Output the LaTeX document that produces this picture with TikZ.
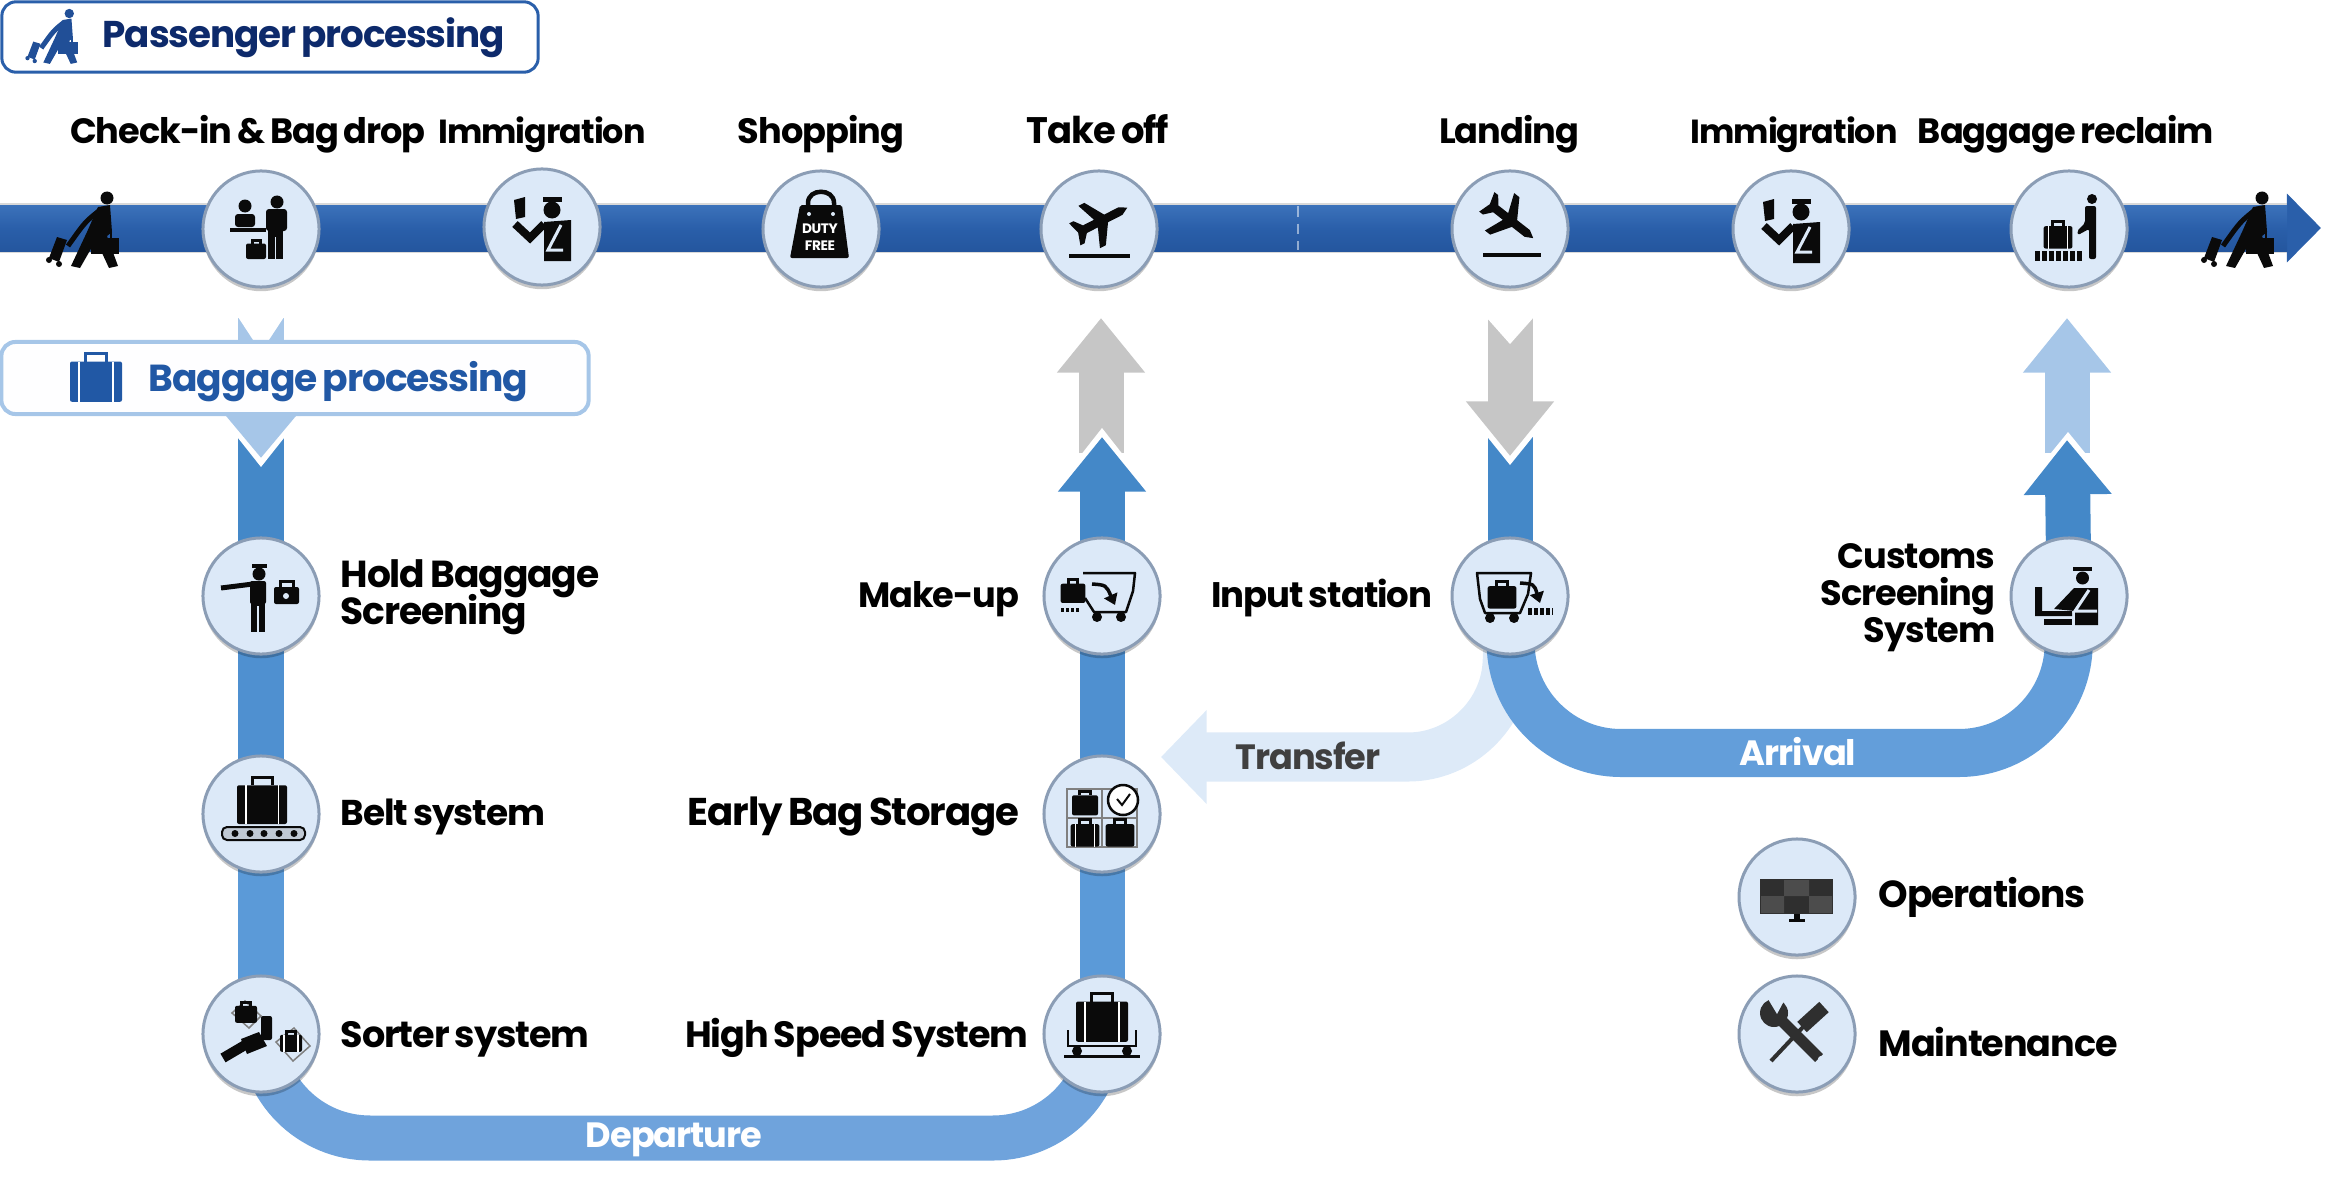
\documentclass[tikz,border=0pt]{standalone}
\usepackage{fontspec}
\setmainfont{Poppins}[LetterSpace=-3,WordSpace=0.75]
\usetikzlibrary{arrows.meta,backgrounds,shadows}
\def\px{0.2845pt}
\definecolor{barblue}{HTML}{2A5FAA}
\definecolor{bartop}{HTML}{3C72BA}
\definecolor{barlow}{HTML}{24569E}
\definecolor{flowa}{HTML}{4488C8}
\definecolor{flowb}{HTML}{4F90D0}
\definecolor{flowc}{HTML}{5B9AD8}
\definecolor{flowd}{HTML}{6FA3DC}
\definecolor{flowlight}{HTML}{A6C6E8}
\definecolor{transfill}{HTML}{DDEAF8}
\definecolor{grayflow}{HTML}{C6C6C6}
\definecolor{circfill}{HTML}{DCE9F8}
\definecolor{circedge}{HTML}{8B9DB5}
\definecolor{navytext}{HTML}{0D2A6B}
\definecolor{bagblue}{HTML}{2158A5}
\definecolor{iconink}{HTML}{0A0A0A}
\tikzset{
    x=0.01cm,y=-0.01cm,
    stationnode/.style={circle,fill=circfill,draw=circedge,line width=3*\px,minimum size=33pt,inner sep=0pt,outer sep=0pt,
        drop shadow={shadow xshift=0pt,shadow yshift=-1.2pt,opacity=.22,fill=black}},
    toplabel/.style={font=\fontsize{10}{10.5}\selectfont\bfseries,text=black,inner sep=0pt,anchor=base},
    sidefont/.style={font=\fontsize{10.4}{10.5}\selectfont\bfseries},
    sidelabel/.style={toplabel,sidefont,anchor=base west,align=left},
    leftlabel/.style={toplabel,sidefont,anchor=base east,align=right},
    flowlabel/.style={toplabel,text=white},
    flowline/.style={line width=45*\px},
    bandline/.style={line width=45*\px,rounded corners=31pt,
        preaction={draw,black,opacity=.13,transform canvas={yshift=-1.5pt}}},
    blockhead/.style={line width=45*\px,-{Triangle[length=15.5pt,width=24pt]}},
    boxnode/.style={rectangle,rounded corners=4pt,inner sep=0pt,outer sep=0pt},
    % icons, drawn round their circle's centre
    pics/suitcase/.style={code={
        \fill[rounded corners=2*\px] (-20,-15) rectangle (20,16);
        \draw[line width=3*\px] (-8,-15) -- (-8,-21) -- (8,-21) -- (8,-15);
    }},
    pics/stripecase/.style={code={
        \fill[rounded corners=2*\px] (-20,-15) rectangle (20,16);
        \draw[line width=3*\px] (-8,-15) -- (-8,-21) -- (8,-21) -- (8,-15);
        \draw[white,line width=1.5*\px] (-13,-15) -- (-13,16) (13,-15) -- (13,16);
    }},
    pics/walker/.style={code={
        \fill (24,-34) circle (6.5);
        \fill (15,-25) -- (27,-27) -- (29,0) -- (24,4) -- (35,34) -- (26,36) -- (13,8) -- (-3,36) -- (-12,34) -- (4,0) -- cycle;
        \draw[line width=5*\px] (17,-22) .. controls (2,-10) .. (-15,14);
        \fill (-34,26) -- (-26,5) -- (-16,8) -- (-24,30) -- cycle;
        \fill (-34,28) circle (3) (-24,32) circle (3);
        \fill (8,6) rectangle (36,22);
        \draw[line width=2*\px] (16,6) -- (16,1) -- (28,1) -- (28,6);
    }},
    pics/plane/.style={code={
        \fill (31,0) -- (23,-4.5) -- (6,-4.5) -- (-7,-25) -- (-14,-25) -- (-6,-4.5) -- (-19,-4.5) -- (-26,-13) -- (-31,-13)
            -- (-27,0) -- (-31,13) -- (-26,13) -- (-19,4.5) -- (-6,4.5) -- (-14,25) -- (-7,25) -- (6,4.5) -- (23,4.5) -- cycle;
    }},
    pics/desk/.style={code={
        \fill (-16,-23) circle (6.5);
        \fill[rounded corners=3*\px] (-26,-15) rectangle (-6,-2);
        \fill (-31,-1) rectangle (5,3);
        \fill (16,-27) circle (6.5);
        \fill[rounded corners=3*\px] (5,-20) rectangle (26,2);
        \fill (7,0) rectangle (22,30);
        \draw[circfill,line width=1.5*\px] (14.5,8) -- (14.5,30);
        \pic[scale=.5] at (-5,22) {suitcase};
    }},
    pics/officer/.style={code={
        \fill (1,-30) rectangle (20,-25);
        \fill (10,-17) circle (8.5);
        \fill (-28,-27) -- (-17,-30) -- (-17,-10) -- (-26,-8) -- cycle;
        \draw[line width=8*\px] (-27,-3) -- (-12,11) -- (2,-3);
        \fill (2,-5) -- (29,-7) -- (29,34) -- (2,34) -- cycle;
        \draw[circfill,line width=3*\px] (19,-2) -- (6,23) -- (21,23);
    }},
    pics/dutybag/.style={code={
        \draw[line width=4.5*\px] (-13,-22) -- (-13,-26) .. controls (-13,-41) and (13,-41) .. (13,-26) -- (13,-22);
        \fill[rounded corners=2*\px] (-21,-24) -- (21,-24) -- (28,29) -- (-31,29) -- cycle;
        \fill[circfill] (-12,-15) circle (2) (12,-15) circle (2);
        \node[white,font=\fontsize{3.9}{5}\selectfont\bfseries,align=center,inner sep=0pt] (dutytext) at (-1,8) {DUTY\\FREE};
    }},
    pics/takeoffsign/.style={code={
        \pic[rotate=27,scale=.95] at (2,-8) {plane};
        \fill (-30,25) rectangle (31,29);
    }},
    pics/landingsign/.style={code={
        \pic[rotate=-38,scale=.95] at (0,-9) {plane};
        \fill (-27,24) rectangle (31,28);
    }},
    pics/reclaim/.style={code={
        \fill (23,-30) circle (5);
        \fill[rounded corners=2*\px] (16,-23) -- (27,-23) -- (27,30) -- (20,30) -- (20,0) -- (9,6) -- (8,2) -- (16,-6) -- cycle;
        \pic[scale=.72] at (-11,8) {stripecase};
        \draw[line width=9*\px,dash pattern=on 5*\px off 2*\px] (-34,27) -- (13,27);
    }},
    pics/screener/.style={code={
        \fill (-9,-32) rectangle (6,-28);
        \fill (-2,-22) circle (6.5);
        \fill[rounded corners=2*\px] (-11,-15) rectangle (5,8);
        \fill (-10,5) rectangle (4,36);
        \draw[circfill,line width=1.5*\px] (-3,10) -- (-3,36);
        \draw[line width=5*\px] (-8,-12) -- (-40,-8);
        \fill[rounded corners=2*\px] (13,-9) rectangle (38,8);
        \draw[line width=3*\px] (19,-9) -- (19,-15) -- (32,-15) -- (32,-9);
        \fill[circfill] (25,0) circle (3);
    }},
    pics/beltcase/.style={code={
        \pic[scale=1.25] at (1,-10) {stripecase};
        \draw[line width=2*\px,rounded corners=5*\px,fill=circfill!70!gray] (-39,13) rectangle (44,26);
        \foreach \dotx in {-26,-11,3,18,33} \fill (\dotx,19.5) circle (3.5);
    }},
    pics/sorter/.style={code={
        \draw[gray,line width=1.5*\px] (-29,-21) -- (-16,-33) -- (0,-18) -- (-12,-6) -- cycle;
        \draw[gray,line width=1.5*\px] (15,8) -- (33,-6) -- (49,12) -- (32,27) -- cycle;
        \pic[scale=.55] at (-15,-20) {suitcase};
        \fill[rounded corners=2*\px] (0,-18) rectangle (11,6);
        \pic[scale=.55] at (30,9) {stripecase};
        \draw[line width=10*\px] (-38,24) -- (-4,4);
        \fill (-20,5) -- (-2,-2) -- (6,12) -- (-14,20) -- cycle;
    }},
    pics/highspeed/.style={code={
        \pic[scale=1.3] at (0,-13) {stripecase};
        \draw[line width=2.5*\px] (-34,-4) -- (-34,12) -- (34,12) -- (34,-4);
        \fill (-25,17) circle (5) (25,17) circle (5);
        \fill (-38,21) rectangle (38,23.5);
    }},
    pics/earlystore/.style={code={
        \draw[gray,line width=2*\px] (-35,-25) rectangle (35,33) (0,-25) -- (0,33) (-35,4) -- (35,4);
        \pic[scale=.65] at (-17,-9) {suitcase};
        \pic[scale=.72] at (-17,21) {stripecase};
        \pic[scale=.72] at (18,21) {suitcase};
        \draw[line width=2.5*\px,fill=white] (21,-14) circle (15);
        \draw[line width=2*\px] (15,-15) -- (20,-9) -- (28,-20);
    }},
    pics/makeup/.style={code={
        \draw[line width=2.5*\px,line join=round] (-19,-23) -- (33,-23) -- (31,-5) -- (24,16) -- (-8,16) -- (-17,2);
        \pic[scale=.62] at (-29,-3) {suitcase};
        \draw[line width=4*\px,dash pattern=on 3*\px off 2*\px] (-41,14) -- (-22,14);
        \fill (-5,21) circle (5) (19,21) circle (5);
        \draw[line width=3.5*\px,-{Triangle[length=3pt,width=4pt]}] (-10,-12) .. controls (4,-11) .. (13,9);
    }},
    pics/inputcart/.style={code={
        \draw[line width=2.5*\px,line join=round] (-33,-23) -- (21,-23) -- (18,-2) -- (10,17) -- (-25,17) -- (-30,3) -- cycle;
        \pic[scale=.72] at (-8,1) {suitcase};
        \fill (-20,22) circle (5) (4,22) circle (5);
        \draw[line width=3.5*\px,-{Triangle[length=3pt,width=4pt]}] (10,-13) .. controls (24,-12) .. (30,7);
        \draw[line width=7*\px,dash pattern=on 4*\px off 2*\px] (18,15) -- (43,15);
    }},
    pics/customs/.style={code={
        \fill (4,-29) rectangle (23,-25);
        \fill (13.5,-18) circle (6.5);
        \fill (-34,-9) -- (-27,-9) -- (-27,15) -- (3,15) -- (3,20) -- (-34,20) -- cycle;
        \fill (-15,13) -- (5,-8) -- (29,-8) -- (29,29) -- (6,29) -- (6,15) -- cycle;
        \draw[circfill,line width=3*\px] (20,-6) -- (6,15) -- (28,15);
        \fill (-25,23) rectangle (3,29);
    }},
    pics/monitors/.style={code={
        \fill[iconink!85] (-37,-18) rectangle (36,17);
        \fill[iconink!73] (-13,-17) rectangle (12,-1) (-36,-1) rectangle (-13,16) (12,-1) rectangle (35,16);
        \fill (-3,17) rectangle (3,22);
        \fill (-8,22) rectangle (8,25);
    }},
    pics/tools/.style={code={
        \draw[iconink!85,line width=11*\px] (-20,-18) -- (22,24);
        \fill[iconink!85] (-23,-21) circle (14);
        \fill[circfill] (-32,-40) -- (-12,-35) -- (-20,-20) -- cycle;
        \fill[circfill] (24,25) circle (3);
        \draw[iconink!85,line width=14*\px] (5,-7) -- (27,-27);
        \draw[iconink!85,line width=4*\px] (6,-7) -- (-26,27);
    }},
}
\begin{document}
\begin{tikzpicture}
    \useasboundingbox (0,0) rectangle (2328,1176);
    % top row
    \node[stationnode] (checkin) at (261,229) {};
    \node[stationnode] (immigout) at (542,227) {};
    \node[stationnode] (shopping) at (821,229) {};
    \node[stationnode] (takeoff) at (1099,229) {};
    \node[stationnode] (landing) at (1510,229) {};
    \node[stationnode] (immigin) at (1791,229) {};
    \node[stationnode] (reclaim) at (2069,229) {};
    % baggage loops
    \node[stationnode] (hbs) at (261,596) {};
    \node[stationnode] (belt) at (261,814) {};
    \node[stationnode] (sorter) at (261,1034) {};
    \node[stationnode] (makeup) at (1102,596) {};
    \node[stationnode] (early) at (1102,814) {};
    \node[stationnode] (highspeed) at (1102,1034) {};
    \node[stationnode] (input) at (1510,596) {};
    \node[stationnode] (customs) at (2069,596) {};
    \node[stationnode] (operations) at (1797,897) {};
    \node[stationnode] (maintenance) at (1797,1034) {};

    \coordinate (barstart) at (0,228);
    \coordinate (bargrad) at (2287,228);
    \coordinate (barend) at (2321,228);
    \coordinate (depleft) at (261,1138);
    \coordinate (depright) at (1102,1138);
    \coordinate (arrleft) at (1512,753);
    \coordinate (arrright) at (2068,753);
    \coordinate (transcorner) at (1503,757);
    \coordinate (transtip) at (1161,757);
    \coordinate (checkintail) at (261,318);
    \coordinate (checkintip) at (261,458);
    \coordinate (hbsin) at (261,438);
    \coordinate (makeuptip) at (1102,437);
    \coordinate (takeofftail) at (1101,453);
    \coordinate (takeofftip) at (1101,318);
    \coordinate (landtail) at (1510,318);
    \coordinate (landtip) at (1510,456);
    \coordinate (inputin) at (1510,437);
    \coordinate (customstip) at (2067,440);
    \coordinate (reclaimtail) at (2067,453);
    \coordinate (reclaimtip) at (2067,318);

    \begin{scope}[on background layer]
    \draw[black,opacity=.15,line width=14pt] (barstart) -- (bargrad);
    \draw[barblue,line width=45*\px,-{Triangle[length=9.7pt,width=19pt]}] (barstart) -- (barend);
    \shade[top color=bartop,bottom color=barlow,middle color=barblue] (0,205) rectangle (2287,251);
    \draw[white,opacity=.5,densely dashed,line width=.3pt] (1298,206) -- (1298,250);

    % departure
    \draw[flowline,flowa] (hbsin) -- (hbs.center);
    \draw[flowline,flowb] (hbs.center) -- (belt.center);
    \draw[flowline,flowc] (belt.center) -- (sorter.center);
    \draw[bandline,flowd] (sorter.center) -- (depleft) -- (depright) -- (highspeed.center);
    \draw[flowline,flowc] (highspeed.center) -- (early.center);
    \draw[flowline,flowb] (early.center) -- (makeup.center);

    % light and grey arrows
    \fill[white] (261,467) -- (215,409) -- (307,409) -- cycle;
    \draw[flowline,flowlight,-{Triangle[length=15pt,width=24pt]}] (checkintail) -- (checkintip);
    \fill[white] (238,317) -- (284,317) -- (261,352) -- cycle;

    \draw[flowline,grayflow] (takeofftail) -- (1101,360);
    \draw[blockhead,grayflow] (1101,372) -- (takeofftip);
    \fill[white] (1102,428) -- (1146,484) -- (1058,484) -- cycle;
    \draw[blockhead,flowa] (makeup.center) -- (makeuptip);

    \draw[flowline,flowa] (inputin) -- (input.center);
    \fill[white] (1510,465) -- (1464,408) -- (1556,408) -- cycle;
    \draw[flowline,grayflow] (landtail) -- (1510,410);
    \draw[blockhead,grayflow] (1510,390) -- (landtip);
    \fill[white] (1486,317) -- (1534,317) -- (1510,344) -- cycle;

    \draw[flowline,flowlight] (reclaimtail) -- (2067,360);
    \draw[blockhead,flowlight] (2067,372) -- (reclaimtip);
    \fill[white] (2068,432) -- (2112,486) -- (2024,486) -- cycle;
    \draw[blockhead,flowa] (customs.center) -- (customstip);

    % transfer and arrival
    \draw[transfill,line width=49*\px,rounded corners=27pt,-{Triangle[length=13pt,width=26pt]}] (input.center) -- (transcorner) -- (transtip);
    \draw[bandline,flowc!60!flowd,line width=48*\px] (input.center) -- (arrleft) -- (arrright) -- (customs.center);
    \end{scope}

    % boxes
    \node[boxnode,draw=barblue,fill=white,line width=3*\px,minimum width=152.5pt,minimum height=20pt] (passbox) at (270,37) {};
    \node[boxnode,draw=flowlight,fill=white!97!circfill,line width=4*\px,minimum width=167pt,minimum height=20.5pt] (bagbox) at (295,378) {};
    \node[toplabel,anchor=base west,text=navytext,font=\fontsize{10.6}{13}\selectfont\bfseries] (passtitle) at (102,48) {Passenger processing};
    \node[toplabel,anchor=base west,text=bagblue,font=\fontsize{10.7}{13}\selectfont\bfseries] (bagtitle) at (148,391) {Baggage processing};

    % labels
    \node[toplabel] (checkinlabel) at (248,144) {Check-in \& Bag drop};
    \node[toplabel,font=\fontsize{9.5}{10.5}\selectfont\bfseries] (immigoutlabel) at (542,144) {Immigration};
    \node[toplabel] (shoppinglabel) at (821,144) {Shopping};
    \node[toplabel,font=\fontsize{10.5}{10.5}\selectfont\bfseries] (takeofflabel) at (1098,144) {Take off};
    \node[toplabel] (landinglabel) at (1509,144) {Landing};
    \node[toplabel,font=\fontsize{9.5}{10.5}\selectfont\bfseries] (immiginlabel) at (1794,144) {Immigration};
    \node[toplabel] (reclaimlabel) at (2066,144) {Baggage reclaim};
    \node[sidelabel,font=\fontsize{10.7}{10.5}\selectfont\bfseries] (hbslabel) at (340,624) {Hold Baggage\\[-2.1pt]Screening};
    \node[sidelabel,font=\fontsize{10.2}{10.5}\selectfont\bfseries] (beltlabel) at (340,825) {Belt system};
    \node[sidelabel] (sorterlabel) at (340,1047) {Sorter system};
    \node[leftlabel,font=\fontsize{10}{10.5}\selectfont\bfseries] (makeuplabel) at (1020,607) {Make-up};
    \node[leftlabel,font=\fontsize{11}{10.5}\selectfont\bfseries] (earlylabel) at (1020,825) {Early Bag Storage};
    \node[leftlabel] (highspeedlabel) at (1029,1047) {High Speed System};
    \node[leftlabel,font=\fontsize{10.1}{10.5}\selectfont\bfseries] (inputlabel) at (1433,607) {Input station};
    \node[leftlabel,font=\fontsize{10}{10.5}\selectfont\bfseries] (customslabel) at (1996,642) {Customs\\Screening\\System};
    \node[sidelabel,font=\fontsize{10.7}{10.5}\selectfont\bfseries] (operationslabel) at (1878,907) {Operations};
    \node[sidelabel] (maintenancelabel) at (1878,1056) {Maintenance};
    \node[toplabel,text=black!75] (transferlabel) at (1308,769) {Transfer};
    \node[flowlabel] (arrivallabel) at (1798,765) {Arrival};
    \node[flowlabel] (departurelabel) at (674,1147) {Departure};

    % icons
    \pic[iconink] at (83,232) {walker};
    \pic[iconink] at (2238,232) {walker};
    \pic[color=barblue!70!navytext,scale=.72] at (52,38) {walker};
    \pic[color=bagblue,scale=1.3] at (96,381) {stripecase};
    \pic[iconink] at (checkin) {desk};
    \pic[iconink] at (immigout) {officer};
    \pic[iconink] at (shopping) {dutybag};
    \pic[iconink] at (takeoff) {takeoffsign};
    \pic[iconink] at (landing) {landingsign};
    \pic[iconink] at (immigin) {officer};
    \pic[iconink] at (reclaim) {reclaim};
    \pic[iconink] at (hbs) {screener};
    \pic[iconink] at (belt) {beltcase};
    \pic[iconink] at (sorter) {sorter};
    \pic[iconink] at (makeup) {makeup};
    \pic[iconink] at (early) {earlystore};
    \pic[iconink] at (highspeed) {highspeed};
    \pic[iconink] at (input) {inputcart};
    \pic[iconink] at (customs) {customs};
    \pic[iconink] at (operations) {monitors};
    \pic[iconink] at (maintenance) {tools};
\end{tikzpicture}
\end{document}
